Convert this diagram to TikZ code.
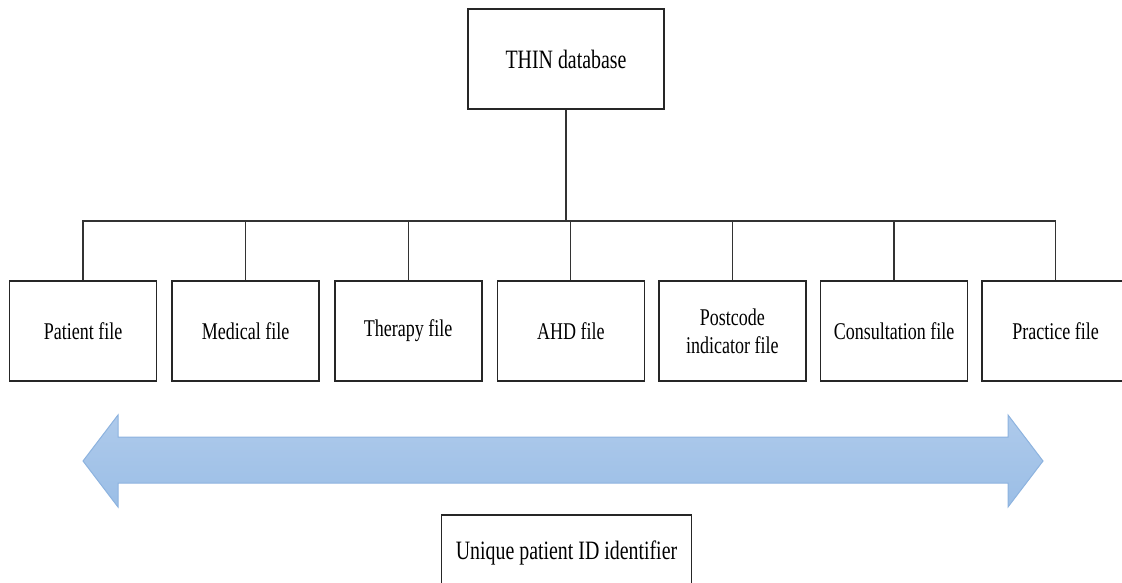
\documentclass[tikz,border=0pt]{standalone}
\usepackage{fontspec}
\setmainfont[FakeStretch=0.75]{Liberation Serif}
\usetikzlibrary{positioning}
\definecolor{arrowtop}{HTML}{AECAEB}
\definecolor{arrowbottom}{HTML}{9BBEE6}
\definecolor{arrowedge}{HTML}{8DB3DF}
\tikzset{
  filebox/.style = {
    draw=black!85, line width=1.6pt,
    minimum width=147pt, minimum height=100pt,
    align=center, font=\fontsize{24}{28}\selectfont
  },
  bigtext/.style = {font=\fontsize{26.5}{30}\selectfont},
  link/.style = {draw=black!80, line width=1.3pt}
}
\begin{document}
\begin{tikzpicture}[x=1pt,y=-1pt,node distance=14pt]
  \useasboundingbox (0,0) rectangle (1122,583);
  \clip (0,0) rectangle (1122,583);
  \node[filebox,bigtext,minimum width=196pt] (thin) at (566,59) {THIN database};
  \node[filebox] (patient) at (83,331) {Patient file};
  \node[filebox,right=of patient] (medical) {Medical file};
  \node[filebox,right=of medical] (therapy) {Therapy file};
  \node[filebox,right=of therapy] (ahd) {AHD file};
  \node[filebox,right=13pt of ahd] (postcode) {Postcode\\indicator file};
  \node[filebox,right=13pt of postcode] (consult) {Consultation file};
  \node[filebox,right=13pt of consult] (practice) {Practice file};
  \coordinate (bus) at (566,221);
  \draw[link] (thin) -- (bus);
  \draw[link] (patient.north) |- (bus) -| (practice.north);
  \foreach \f in {medical,therapy,ahd,postcode,consult}
    \draw[link] (\f.north) -- (\f.north |- bus);
  \draw[draw=arrowedge,line width=1pt,top color=arrowtop,bottom color=arrowbottom]
    (83,461) -- (118,415) -- (118,437) -- (1008,437) -- (1008,415)
    -- (1043,461) -- (1008,507) -- (1008,483) -- (118,483) -- (118,507) -- cycle;
  \node[filebox,bigtext,minimum width=250pt,minimum height=0pt,anchor=north,
    text height=40pt,text depth=30pt,inner ysep=5pt] (uid) at (566.5,514)
    {Unique patient ID identifier};
\end{tikzpicture}
\end{document}
